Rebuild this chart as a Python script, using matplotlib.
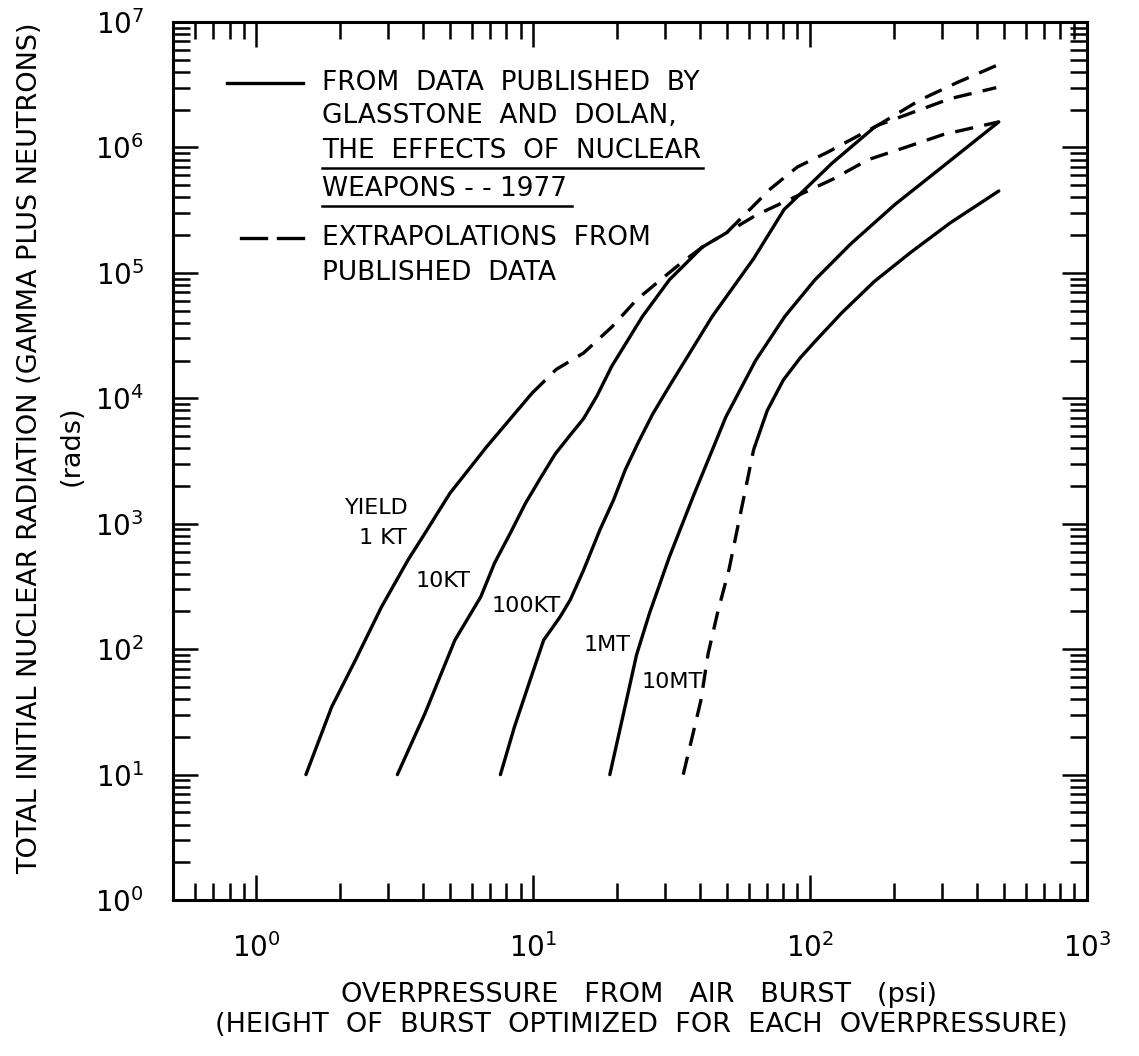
import numpy as np
import matplotlib.pyplot as plt
from matplotlib.ticker import LogLocator, NullFormatter, FixedLocator

plt.rcParams["font.family"] = ["DejaVu Sans"]
plt.rcParams["mathtext.fontset"] = "dejavusans"

# values (psi, rads)
kt1_x = [1.51, 1.87, 2.28, 2.83, 3.53, 4.07, 5.0, 6.78, 9.9]
kt1_y = [10, 34.6, 82, 217, 515, 845, 1750, 4100, 11000]
kt1_ext_x = [9.9, 12.1, 15.2, 19.2, 23.6, 28.8, 34.2, 40.7, 64, 121, 162, 220, 303, 480]
kt1_ext_y = [11000, 17000, 23000, 37000, 61000, 88000, 120000, 160000, 290000, 560000, 800000, 1.0e6, 1.27e6, 1.6e6]

kt10_x = [3.23, 4.07, 5.21, 6.46, 7.25, 8.27, 9.36, 10.6, 12.0, 13.6, 15.2, 17.0, 19.2, 24.8, 31, 40.7]
kt10_y = [10, 31, 118, 261, 487, 845, 1450, 2300, 3600, 5100, 6900, 10500, 18000, 45000, 88000, 160000]
kt10_ext_x = [40.7, 50, 72, 90, 116, 175, 320, 470]
kt10_ext_y = [160000, 210000, 470000, 700000, 920000, 1.5e6, 2.45e6, 3.0e6]

kt100_x = [7.61, 8.55, 9.75, 10.9, 12.5, 13.6, 15.2, 17.4, 19.5, 21.5, 24, 27, 31, 44.3, 62.5, 80.5, 120, 170]
kt100_y = [10, 24, 57, 118, 181, 247, 428, 893, 1550, 2700, 4500, 7500, 12500, 45000, 130000, 320000, 750000, 1.44e6]
kt100_ext_x = [170, 250, 340, 470]
kt100_ext_y = [1.44e6, 2.4e6, 3.3e6, 4.5e6]

mt1_x = [18.9, 21.2, 23.6, 26.3, 31, 37.8, 49.6, 63.5, 81, 104, 140, 202, 300, 480]
mt1_y = [10, 31, 90, 194, 543, 1650, 7100, 20000, 45000, 88000, 170000, 350000, 700000, 1.6e6]

mt10_ext_x = [34.8, 37.8, 40.3, 42.8, 46.4, 50.9, 56, 62.5]
mt10_ext_y = [10, 21.5, 39, 92, 199, 430, 1200, 3900]
mt10_x = [62.5, 70, 80, 92, 105, 130, 170, 230, 320, 480]
mt10_y = [3900, 8000, 14000, 21000, 29000, 48000, 85000, 145000, 250000, 450000]

fig = plt.figure(figsize=(11.39, 10.56), dpi=100)
ax = fig.add_axes([0.1519, 0.1477, 0.8025, 0.8314])
ax.set_xscale("log")
ax.set_yscale("log")
ax.set_xlim(0.5, 1000)
ax.set_ylim(1, 1e7)

lw = 2.4
dash = (0, (5.5, 3.4))
for x, y in [(kt1_x, kt1_y), (kt10_x, kt10_y), (kt100_x, kt100_y), (mt1_x, mt1_y), (mt10_x, mt10_y)]:
    ax.plot(x, y, color="black", lw=lw, solid_capstyle="round", solid_joinstyle="round")
for x, y in [(kt1_ext_x, kt1_ext_y), (kt10_ext_x, kt10_ext_y), (kt100_ext_x, kt100_ext_y), (mt10_ext_x, mt10_ext_y)]:
    ax.plot(x, y, color="black", lw=lw, linestyle=dash, dash_joinstyle="round")

for s in ax.spines.values():
    s.set_linewidth(2.2)

ax.xaxis.set_major_locator(FixedLocator([1, 10, 100, 1000]))
ax.xaxis.set_minor_locator(LogLocator(base=10, subs=np.arange(2, 10)))
ax.yaxis.set_major_locator(FixedLocator([10.0 ** k for k in range(8)]))
ax.yaxis.set_minor_locator(LogLocator(base=10, subs=np.arange(2, 10), numticks=20))
ax.xaxis.set_minor_formatter(NullFormatter())
ax.yaxis.set_minor_formatter(NullFormatter())
ax.set_xticklabels([r"$10^{%d}$" % k for k in range(4)])
ax.set_yticklabels([r"$10^{%d}$" % k for k in range(8)])
ax.tick_params(which="both", direction="in", top=True, right=True, width=1.8, labelsize=20)
ax.tick_params(which="major", length=18)
ax.tick_params(which="minor", length=12)
ax.tick_params(axis="x", pad=24)
ax.tick_params(axis="y", pad=21)

fs = 19.5
fig.text(0.561, 1 - 995 / 1056, "OVERPRESSURE   FROM   AIR   BURST   (psi)", ha="center", va="center", fontsize=fs)
fig.text(0.563, 1 - 1025 / 1056, "(HEIGHT  OF  BURST  OPTIMIZED  FOR  EACH  OVERPRESSURE)", ha="center", va="center", fontsize=fs)
fig.text(30 / 1139, 1 - 448 / 1056, "TOTAL INITIAL NUCLEAR RADIATION (GAMMA PLUS NEUTRONS)", rotation=90, ha="center", va="center", fontsize=fs)
fig.text(72 / 1139, 1 - 446 / 1056, "(rads)", rotation=90, ha="center", va="center", fontsize=fs)


def px(x, y):
    return x / 1139, 1 - y / 1056


# legend
fig.add_artist(plt.Line2D([227 / 1139, 303 / 1139], [1 - 83 / 1056] * 2, color="black", lw=lw))
for x0, x1 in [(241, 266), (278, 303)]:
    fig.add_artist(plt.Line2D([x0 / 1139, x1 / 1139], [1 - 238 / 1056] * 2, color="black", lw=lw))
legend_lines = [
    ("FROM  DATA  PUBLISHED  BY", 83),
    ("GLASSTONE  AND  DOLAN,", 116),
    ("THE  EFFECTS  OF  NUCLEAR", 151),
    ("WEAPONS - - 1977", 189),
    ("EXTRAPOLATIONS  FROM", 238),
    ("PUBLISHED  DATA", 273),
]
for txt, y in legend_lines:
    fig.text(*px(322, y), txt, ha="left", va="center", fontsize=19)
fig.add_artist(plt.Line2D([322 / 1139, 703 / 1139], [1 - 168 / 1056] * 2, color="black", lw=1.8))
fig.add_artist(plt.Line2D([322 / 1139, 572 / 1139], [1 - 206 / 1056] * 2, color="black", lw=1.8))

labels = [("YIELD", 377, 508), ("1 KT", 383, 538), ("10KT", 443, 581), ("100KT", 526, 606),
          ("1MT", 607, 645), ("10MT", 672, 682)]
for txt, x, y in labels:
    fig.text(*px(x, y), txt, ha="center", va="center", fontsize=16)

fig.savefig("out.png", dpi=100)
